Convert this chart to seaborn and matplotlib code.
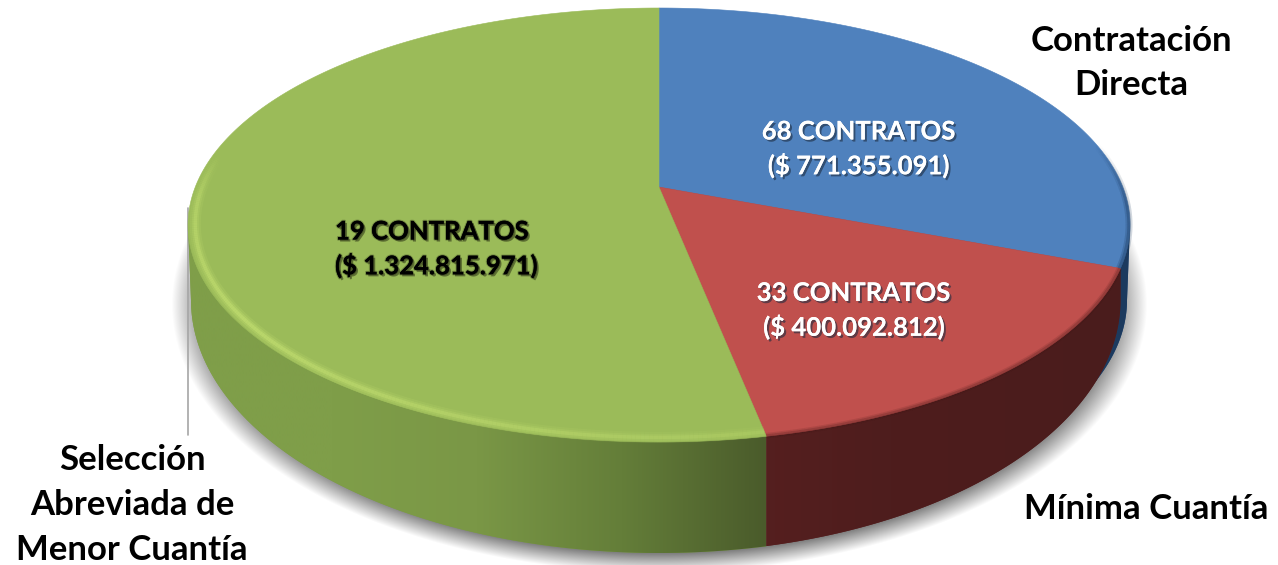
import numpy as np
import matplotlib
matplotlib.use("Agg")
import matplotlib.pyplot as plt
import matplotlib.patheffects as pe
from matplotlib.collections import LineCollection
from matplotlib.colors import LinearSegmentedColormap
from matplotlib.patches import Polygon
import seaborn as sns

# datos
categorias = ["Contratación\nDirecta", "Mínima Cuantía", "Selección\nAbreviada de\nMenor Cuantía"]
valores = [771355091, 400092812, 1324815971]
etiquetas = ["68 CONTRATOS\n($ 771.355.091)", "33 CONTRATOS\n($ 400.092.812)", "19 CONTRATOS\n($ 1.324.815.971)"]
colores_cara = ["#4F81BD", "#C0504D", "#9BBB59"]

sns.set_theme(style="white")
plt.rcParams["font.family"] = ["Lato", "DejaVu Sans"]

# geometria del disco en perspectiva (pixeles de la imagen)
CX, CY, A, B = 659, 225, 471, 217
BASE_CY, BASE_A, BASE_B = 300, 468, 253
TILT = 0.175


def to_top(u, v):
    w = 1 + TILT * v
    return CX + A * u * np.sqrt(1 - TILT ** 2) / w, CY - B * (v + TILT) / w


def arco(t1, t2, r=1.0, n=240):
    t = np.radians(np.linspace(t1, t2, n))
    return to_top(r * np.cos(t), r * np.sin(t))


def arco_base(phi1, phi2, a=BASE_A, b=BASE_B, n=200):
    p = np.linspace(phi1, phi2, n)
    return np.column_stack([CX + a * np.cos(p), BASE_CY + b * np.sin(p)])


def borde(t1, t2, alfas, color, anchos, r=0.985):
    x, y = arco(t1, t2, r)
    puntos = np.column_stack([x, y])
    segs = np.stack([puntos[:-1], puntos[1:]], axis=1)
    for ancho, k in anchos:
        rgba = np.tile(matplotlib.colors.to_rgba(color), (len(segs), 1))
        rgba[:, 3] = np.interp(np.linspace(t1, t2, len(segs)), alfas[0], alfas[1]) * k
        ax.add_collection(LineCollection(segs, colors=rgba, linewidths=ancho, capstyle="butt", zorder=6))


def pared(xy, paradas, zorder=3):
    # pared lateral con degradado horizontal
    poly = Polygon(xy, closed=True, facecolor=paradas[0], edgecolor="none", zorder=zorder)
    ax.add_patch(poly)
    cmap = LinearSegmentedColormap.from_list("p", paradas)
    x0, x1 = xy[:, 0].min(), xy[:, 0].max()
    im = ax.imshow(np.linspace(0, 1, 256)[None, :], extent=(x0, x1, 565, 0), cmap=cmap,
                   aspect="auto", zorder=zorder, interpolation="bilinear")
    im.set_clip_path(poly)


fig = plt.figure(figsize=(12.78, 5.65), dpi=100)
ax = fig.add_axes([0, 0, 1, 1])

# los angulos salen del pie
wedges, _ = ax.pie(valores, startangle=90, counterclock=False, colors=colores_cara)
angulos = []
for w, c in zip(wedges, colores_cara):
    angulos.append((w.theta1, w.theta2))
    w.set_visible(False)
ax.set_aspect("auto")

# sombra difusa
yy, xx = np.mgrid[0:565, 0:1278]
d = np.sqrt(((xx - CX) / 488.0) ** 2 + ((yy - 304) / 268.0) ** 2)
sombra = np.zeros((565, 1278, 4))
sombra[..., 3] = 0.5 * np.clip((1.0 - d) / 0.07, 0, 1)
ax.imshow(sombra, extent=(0, 1278, 565, 0), aspect="auto", zorder=1, interpolation="bilinear")

# linea guia
ax.plot([187.5, 187.5], [208, 435], color="#a6a6a6", lw=1.2, zorder=2)

apice = np.array(to_top(0, 0))
t_azul_rojo = np.radians(angulos[0][0])
t_rojo_verde = np.radians(angulos[1][0])
p_ar = np.array(to_top(np.cos(t_azul_rojo), np.sin(t_azul_rojo)))
p_rv = np.array(to_top(np.cos(t_rojo_verde), np.sin(t_rojo_verde)))

# paredes laterales
azul = np.vstack([arco_base(np.radians(21.3), 0, b=226), [[CX + A, CY]], [apice]])
pared(azul, ["#2b5180", "#1c3a5e"], zorder=3)

fi_v = np.arccos((p_rv[0] - CX) / BASE_A)
verde = np.vstack([arco_base(np.pi, fi_v), [p_rv], [apice], [[CX - A, CY]]])
pared(verde, ["#7f9e49", "#7f9e49", "#7a9746", "#647e39", "#4a5b2b"], zorder=3)

a_rojo = p_ar[0] - CX
fi_r = np.arccos((p_rv[0] - CX) / a_rojo)
rojo = np.vstack([arco_base(fi_r, 0, a=a_rojo), [p_ar], [apice], [p_rv]])
pared(rojo, ["#5b2121", "#4e1d1d", "#4a1c1c"], zorder=4)

# cara superior
for (t1, t2), c in zip(angulos, colores_cara):
    x, y = arco(t1, t2)
    xy = np.vstack([[apice], np.column_stack([x, y])])
    ax.add_patch(Polygon(xy, closed=True, facecolor=c, edgecolor=c, lw=0.4, zorder=5))

# bisel del borde
fin_verde = angulos[2][1]
borde(-190, fin_verde, ([-190, -177, -145, -110, fin_verde], [0, 0.55, 0.85, 0.55, 0.3]), "#c6e273",
      [(8, 0.22), (5, 0.35), (2.5, 0.6)])
borde(angulos[1][0], angulos[1][1], (angulos[1], [0.5, 0.5]), "#3a1414", [(4, 0.25), (2, 0.4)], r=0.998)
borde(angulos[0][0], 12, ([angulos[0][0], -5, 12], [0.7, 0.7, 0]), "#1c3a5e", [(5, 0.3), (2.5, 0.5)], r=0.998)

# etiquetas dentro
sombra_negra = [pe.withSimplePatchShadow(offset=(1.5, -1.5), shadow_rgbFace="#2c3314", alpha=0.55),
                pe.Stroke(linewidth=1.6, foreground="black", alpha=0.25), pe.Normal()]
sombra_blanca = [pe.withSimplePatchShadow(offset=(1.5, -1.5), shadow_rgbFace="#1d2c40", alpha=0.6),
                 pe.Normal()]
pos_etq = [(859, 149), (854, 310.5), (335, 249)]
for txt, (px, py), color, ef, ha in zip(etiquetas, pos_etq, ["white", "white", "black"],
                                        [sombra_blanca, sombra_blanca, sombra_negra],
                                        ["center", "center", "left"]):
    ax.text(px, py, txt, color=color, fontsize=18.5, fontweight="bold", ha=ha, va="center",
            linespacing=1.4, path_effects=ef, zorder=8, multialignment=ha)

# nombres de categoria
pos_cat = [(1131, 63), (1146, 509), (132, 505)]
for txt, (px, py) in zip(categorias, pos_cat):
    ax.text(px, py, txt, color="black", fontsize=25, fontweight="bold", ha="center", va="center",
            linespacing=1.49, zorder=8)

ax.set_xlim(0, 1278)
ax.set_ylim(565, 0)
ax.axis("off")
fig.savefig("out.png", dpi=100)
